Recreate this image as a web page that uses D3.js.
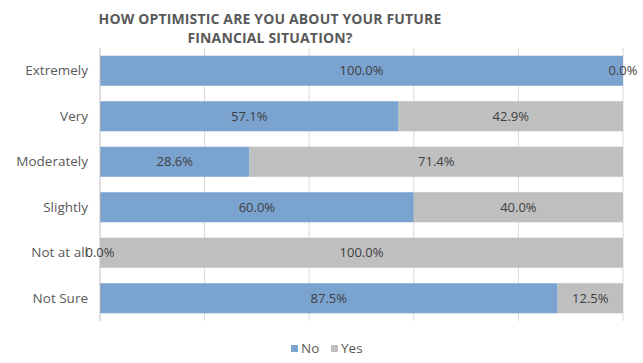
<!DOCTYPE html>
<html>
<head>
<meta charset="utf-8">
<script src="https://cdn.jsdelivr.net/npm/d3@7"></script>
<style>
  html, body { margin: 0; padding: 0; background: #fff; }
  svg { display: block; font-family: "Open Sans", "Noto Sans", sans-serif; }
</style>
</head>
<body>
<svg id="chart" width="643" height="363"></svg>
<script>
// Survey answers, top to bottom
const categories = ["Extremely", "Very", "Moderately", "Slightly", "Not at all", "Not Sure"];
// Share of respondents answering "No" / "Yes" (percent)
const noValues  = [100.0, 57.1, 28.6, 60.0, 0.0, 87.5];
const yesValues = [0.0, 42.9, 71.4, 40.0, 100.0, 12.5];
const seriesNames = ["No", "Yes"];
const xTicks = [0, 20, 40, 60, 80, 100];
const titleLines = ["HOW OPTIMISTIC ARE YOU ABOUT YOUR FUTURE", "FINANCIAL SITUATION?"];

const colors = { No: "#7ba3d0", Yes: "#bfbfbf" };

const svg = d3.select("#chart");
const plot = { left: 100, right: 623, top: 48, bottom: 321 };

const x = d3.scaleLinear().domain([0, 100]).range([plot.left, plot.right]);
const y = d3.scaleBand().domain(categories).range([plot.top, plot.bottom]).paddingInner(0.34).paddingOuter(0.17);

// Title
svg.append("g").selectAll("text").data(titleLines).join("text")
  .attr("x", 270).attr("y", (d, i) => 23.5 + i * 19.5)
  .attr("text-anchor", "middle")
  .attr("font-size", 14).attr("font-weight", "bold")
  .attr("letter-spacing", 0.15)
  .attr("fill", "#595959")
  .text(d => d);

// Vertical gridlines
svg.append("g").selectAll("line").data(xTicks.slice(1)).join("line")
  .attr("x1", d => x(d)).attr("x2", d => x(d))
  .attr("y1", plot.top).attr("y2", plot.bottom)
  .attr("stroke", "#d9d9d9").attr("stroke-width", 1);

// Stacked data
const rows = categories.map((c, i) => ({ cat: c, No: noValues[i], Yes: yesValues[i] }));
const stacked = d3.stack().keys(seriesNames)(rows);

const layers = svg.append("g").selectAll("g").data(stacked).join("g")
  .attr("fill", d => colors[d.key]);

layers.selectAll("rect").data(d => d).join("rect")
  .attr("x", d => x(d[0]))
  .attr("y", d => y(d.data.cat))
  .attr("width", d => x(d[1]) - x(d[0]))
  .attr("height", y.bandwidth());

// Category axis
const yAxis = svg.append("g").attr("transform", `translate(${plot.left},0)`)
  .call(d3.axisLeft(y).tickSize(0).tickPadding(12));
yAxis.select(".domain").attr("stroke", "#bfbfbf").attr("d", `M0,${plot.top}V${plot.bottom}`);
yAxis.selectAll("text").attr("font-size", 13.5).attr("fill", "#595959")
  .attr("font-family", "\"Open Sans\", sans-serif");

// Segment value labels
const labelG = svg.append("g");
stacked.forEach(layer => {
  labelG.append("g").selectAll("text").data(layer).join("text")
    .attr("x", d => (x(d[0]) + x(d[1])) / 2)
    .attr("y", d => y(d.data.cat) + y.bandwidth() / 2)
    .attr("dy", "0.35em")
    .attr("text-anchor", "middle")
    .attr("font-size", 13).attr("fill", "#404040")
    .text(d => (d[1] - d[0]).toFixed(1) + "%");
});

// Legend
const legend = svg.append("g").attr("transform", "translate(0,353)");
const legendItems = [{ key: "No", x: 291 }, { key: "Yes", x: 331 }];
legendItems.forEach(it => {
  legend.append("rect").attr("x", it.x).attr("y", -8).attr("width", 7).attr("height", 7)
    .attr("fill", colors[it.key]);
  legend.append("text").attr("x", it.x + 10).attr("y", 0)
    .attr("font-size", 13.5).attr("fill", "#595959").text(it.key);
});
</script>
</body>
</html>
